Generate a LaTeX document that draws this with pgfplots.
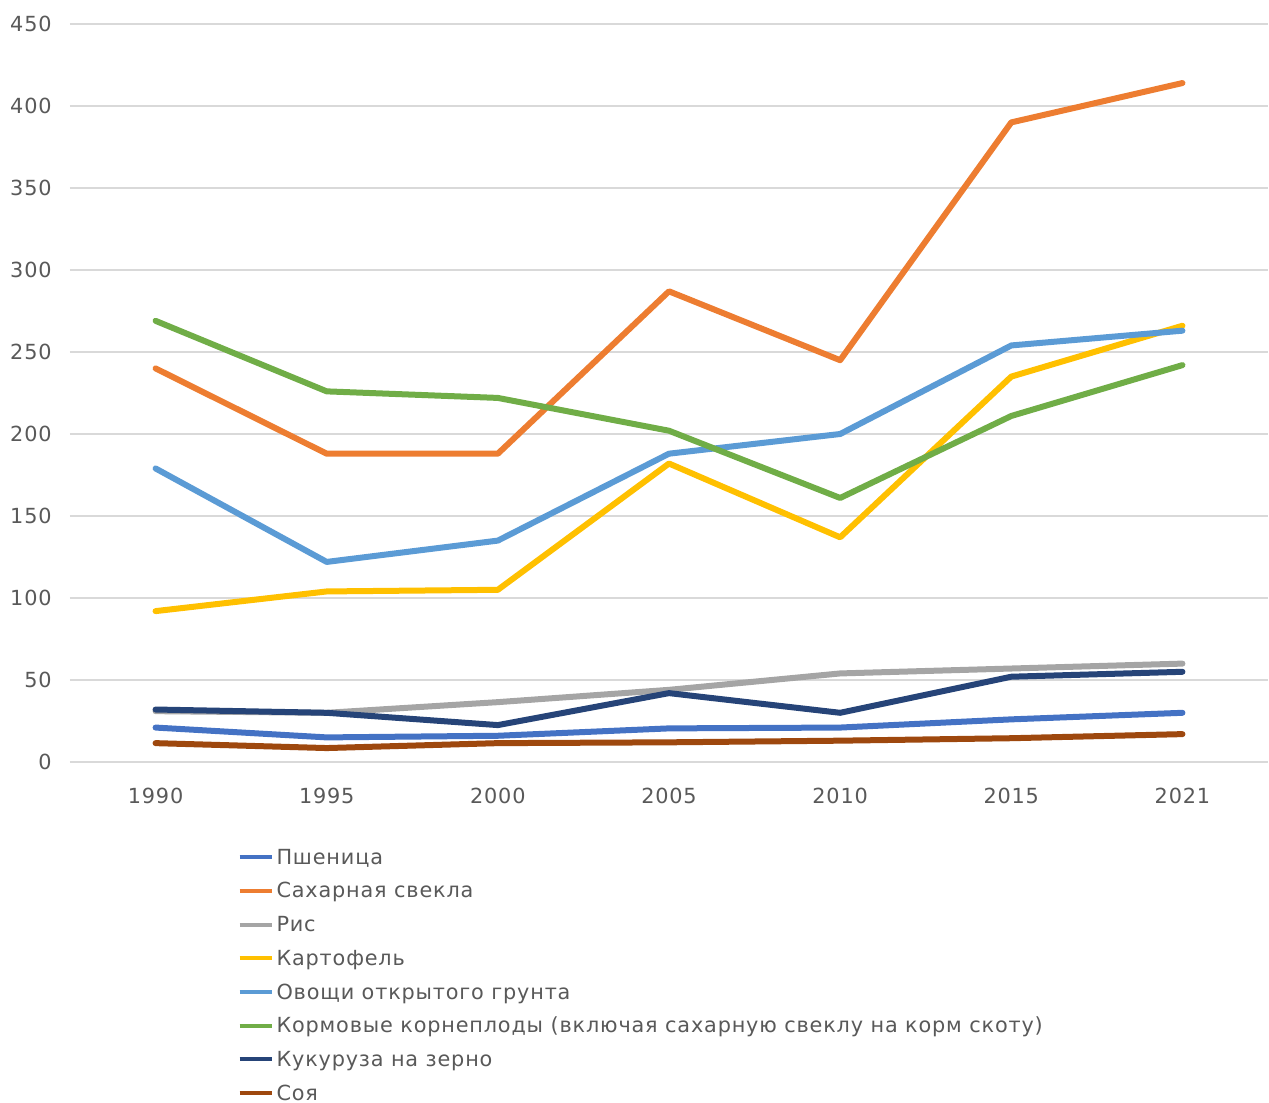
\documentclass[border=0pt]{standalone}
\usepackage{fontspec}
\setmainfont{DejaVu Sans}[LetterSpace=4]
\usepackage{pgfplots}
\pgfplotsset{compat=1.18}

\definecolor{cBlue}{HTML}{4472C4}
\definecolor{cOrange}{HTML}{ED7D31}
\definecolor{cGray}{HTML}{A5A5A5}
\definecolor{cYellow}{HTML}{FFC000}
\definecolor{cLBlue}{HTML}{5B9BD5}
\definecolor{cGreen}{HTML}{70AD47}
\definecolor{cDBlue}{HTML}{264478}
\definecolor{cBrown}{HTML}{9E480E}
\definecolor{txt}{HTML}{595959}
\definecolor{gridc}{HTML}{D9D9D9}

\begin{document}
\begin{tikzpicture}
\begin{axis}[
scale only axis, width=599pt, height=369pt,
xmin=-0.5, xmax=6.5, ymin=0, ymax=450,
xtick={0,...,6},
xticklabels={1990,1995,2000,2005,2010,2015,2021},
ytick={0,50,...,450},
axis line style={draw=none},
major tick length=0pt,
ymajorgrids=true, xmajorgrids=false,
grid style={color=gridc, line width=0.9pt},
font=\fontsize{10.4}{12}\selectfont,
/pgf/number format/assume math mode=true,
ticklabel style={text=txt, inner sep=0pt},
yticklabel style={xshift=-9pt},
xticklabel style={yshift=-13pt},
every axis plot/.append style={line width=3pt, line join=round, line cap=round},
legend style={at={(0.1395,-0.1055)}, anchor=north west, draw=none, fill=none,
  inner sep=0pt, row sep=0pt, font=\fontsize{10.4}{12}\selectfont,
  nodes={text=txt, inner xsep=1.5pt, inner ysep=0pt, text height=12pt, text depth=4.85pt}},
legend cell align=left,
legend image code/.code={\draw[#1, line width=2pt, line cap=butt] (0pt,0pt) -- (16pt,0pt);},
]
\addplot[cBlue] coordinates {(0,21) (1,15) (2,16) (3,20.5) (4,21) (5,26) (6,30)};
\addlegendentry{Пшеница}
\addplot[cOrange] coordinates {(0,240) (1,188) (2,188) (3,287) (4,245) (5,390) (6,414)};
\addlegendentry{Сахарная свекла}
\addplot[cGray] coordinates {(0,31) (1,30) (2,36.5) (3,44) (4,54) (5,57) (6,60)};
\addlegendentry{Рис}
\addplot[cYellow] coordinates {(0,92) (1,104) (2,105) (3,182) (4,137) (5,235) (6,266)};
\addlegendentry{Картофель}
\addplot[cLBlue] coordinates {(0,179) (1,122) (2,135) (3,188) (4,200) (5,254) (6,263)};
\addlegendentry{Овощи открытого грунта}
\addplot[cGreen] coordinates {(0,269) (1,226) (2,222) (3,202) (4,161) (5,211) (6,242)};
\addlegendentry{Кормовые корнеплоды (включая сахарную свеклу на корм скоту)}
\addplot[cDBlue] coordinates {(0,32) (1,30) (2,22.5) (3,42) (4,30) (5,52) (6,55)};
\addlegendentry{Кукуруза на зерно}
\addplot[cBrown] coordinates {(0,11.5) (1,8.5) (2,11.5) (3,12) (4,13) (5,14.5) (6,17)};
\addlegendentry{Соя}
\end{axis}
\pgfresetboundingbox
\path ([shift={(-35pt,-170.5pt)}]current axis.south west) rectangle ([shift={(0.5pt,12pt)}]current axis.north east);
\end{tikzpicture}
\end{document}
